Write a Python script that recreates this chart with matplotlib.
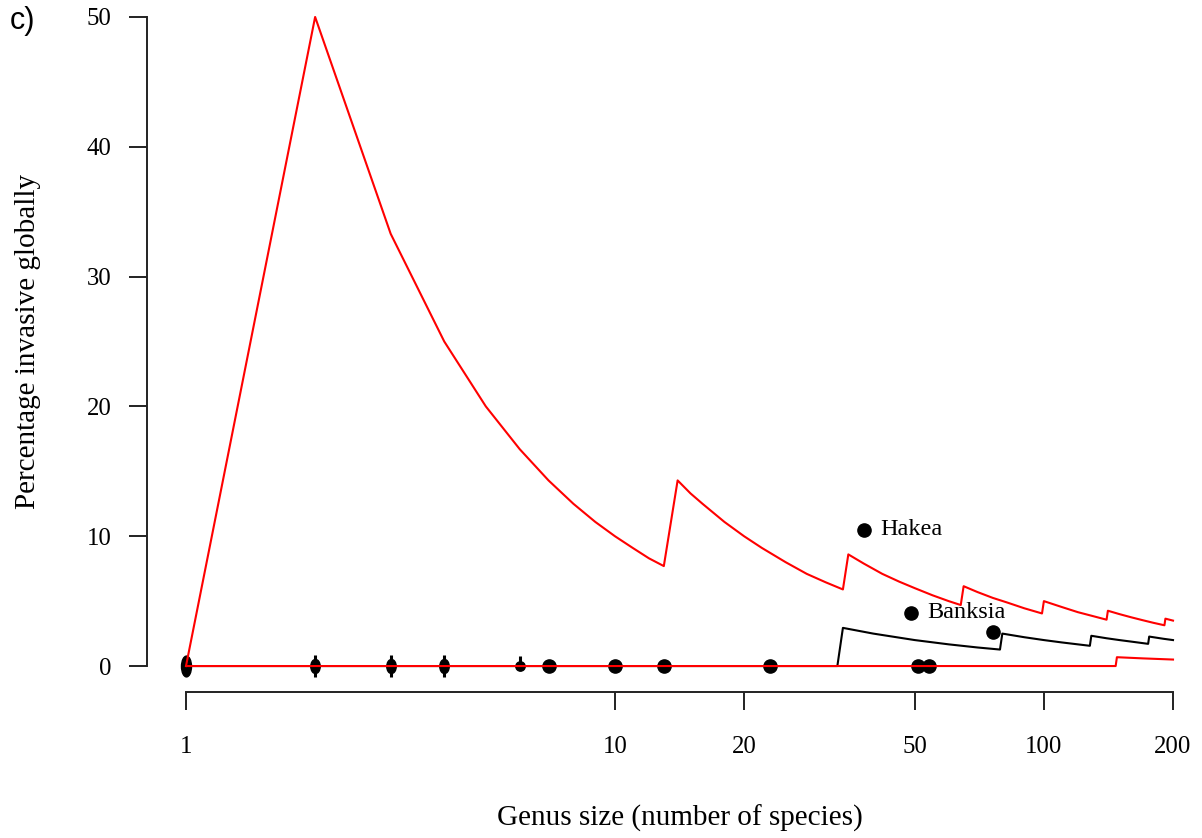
import matplotlib
matplotlib.use("Agg")
import matplotlib.pyplot as plt
from matplotlib.markers import MarkerStyle
from matplotlib.transforms import Affine2D
from matplotlib.ticker import FixedLocator, FixedFormatter, NullLocator

plt.rcParams['font.family'] = 'Liberation Serif'

# upper bound of percentage invasive, by genus size
upper_n = [1, 2, 3, 4, 5, 6, 7, 8, 9, 10, 11, 12, 13, 14, 15, 16, 18, 20, 22,
           25, 28, 31, 34, 35, 38, 42, 46, 50, 55, 60, 64, 65, 70, 76, 82, 90,
           99, 100, 110, 120, 130, 140, 141, 150, 160, 170, 180, 191, 192, 200]
upper_pct = [0, 50, 33.3, 25, 20, 16.7, 14.3, 12.5, 11.1, 10, 9.1, 8.3, 7.7,
             14.3, 13.3, 12.5, 11.1, 10, 9.1, 8.0, 7.1, 6.45, 5.9, 8.6, 7.9,
             7.1, 6.5, 6.0, 5.45, 5.0, 4.7, 6.15, 5.7, 5.25, 4.9, 4.45, 4.05,
             5.0, 4.55, 4.15, 3.85, 3.57, 4.26, 4.0, 3.75, 3.53, 3.33, 3.14,
             3.65, 3.5]

# expected percentage
mid_n = [1, 33, 34, 40, 50, 60, 70, 79, 80, 90, 100, 110, 120, 128, 129, 140,
         150, 160, 175, 176, 190, 200]
mid_pct = [0, 0, 2.94, 2.5, 2.0, 1.67, 1.43, 1.27, 2.5, 2.22, 2.0, 1.82, 1.67,
           1.56, 2.33, 2.14, 2.0, 1.88, 1.71, 2.27, 2.1, 2.0]

# lower bound
lower_n = [1, 147, 148, 170, 200]
lower_pct = [0, 0, 0.68, 0.59, 0.5]

# genera with no invasive species
zero_x = [7, 10, 13, 23, 51, 54]
# sizes where many genera pile up at zero
stack_x = [2, 3, 4, 6]
stack_lo = [-0.85, -0.85, -0.85, 0.0]
stack_hi = [0.85, 0.85, 0.85, 0.75]
single_species_x = [1]

# genera with invasive species
inv_x = [38, 49, 76]
inv_pct = [10.5, 4.1, 2.6]
inv_names = ['Hakea', 'Banksia', '']

xticks = [1, 10, 20, 50, 100, 200]
yticks = [0, 10, 20, 30, 40, 50]

fig = plt.figure(figsize=(12.02, 8.38), dpi=100)
ax = fig.add_axes([146.5 / 1202, 146 / 838, 1066 / 1202, 701 / 838])
ax.set_xscale('log')
ax.set_xlim(10 ** -0.0921, 10 ** 2.3931)
ax.set_ylim(-2, 52)

# points
ax.plot(single_species_x, [0], ls='none', color='black',
        marker=MarkerStyle('o', transform=Affine2D().scale(0.48, 1.0)),
        markersize=15)
ax.vlines(stack_x, stack_lo, stack_hi, color='black', lw=2.2, zorder=2)
ax.plot(stack_x[:3], [0] * 3, ls='none', color='black',
        marker=MarkerStyle('o', transform=Affine2D().scale(0.8, 1.2)),
        markersize=8.5)
ax.plot(stack_x[3:], [0], ls='none', color='black',
        marker=MarkerStyle('o', transform=Affine2D().scale(0.9, 0.9)),
        markersize=7.5)
ax.plot(zero_x, [0] * len(zero_x), 'o', color='black', markersize=9.5)
ax.plot(inv_x, inv_pct, 'o', color='black', markersize=9.5)
for x, y, name in zip(inv_x, inv_pct, inv_names):
    ax.annotate(name, (x, y), xytext=(12, 0), textcoords='offset points',
                ha='left', va='center', fontsize=17.5)

# lines
ax.plot(upper_n, upper_pct, color='red', lw=1.5, zorder=3)
ax.plot(mid_n, mid_pct, color='black', lw=1.5, zorder=3)
ax.plot(lower_n, lower_pct, color='red', lw=1.5, zorder=4)

# R-style axes
for side in ('top', 'right'):
    ax.spines[side].set_visible(False)
ax.spines['left'].set_bounds(0, 50)
ax.spines['bottom'].set_bounds(1, 200)
for side in ('left', 'bottom'):
    ax.spines[side].set_linewidth(1.4)
    ax.spines[side].set_color('#222222')

ax.xaxis.set_major_locator(FixedLocator(xticks))
ax.xaxis.set_major_formatter(FixedFormatter([str(t) for t in xticks]))
ax.xaxis.set_minor_locator(NullLocator())
ax.set_yticks(yticks)
ax.tick_params(axis='both', direction='out', length=13, width=1.4,
               color='#222222', labelsize=17.8)
ax.tick_params(axis='y', pad=12)
ax.tick_params(axis='x', pad=19)

fig.text(679.5 / 1202, 1 - 818 / 838, 'Genus size (number of species)',
         ha='center', va='center', fontsize=21)
fig.text(28 / 1202, 1 - 341.5 / 838, 'Percentage invasive globally',
         ha='center', va='center', rotation=90, fontsize=21)
fig.text(10 / 1202, 1 - 21 / 838, 'c)', ha='left', va='center',
         fontsize=22, family='Liberation Sans')

fig.savefig('out.png', dpi=100)
